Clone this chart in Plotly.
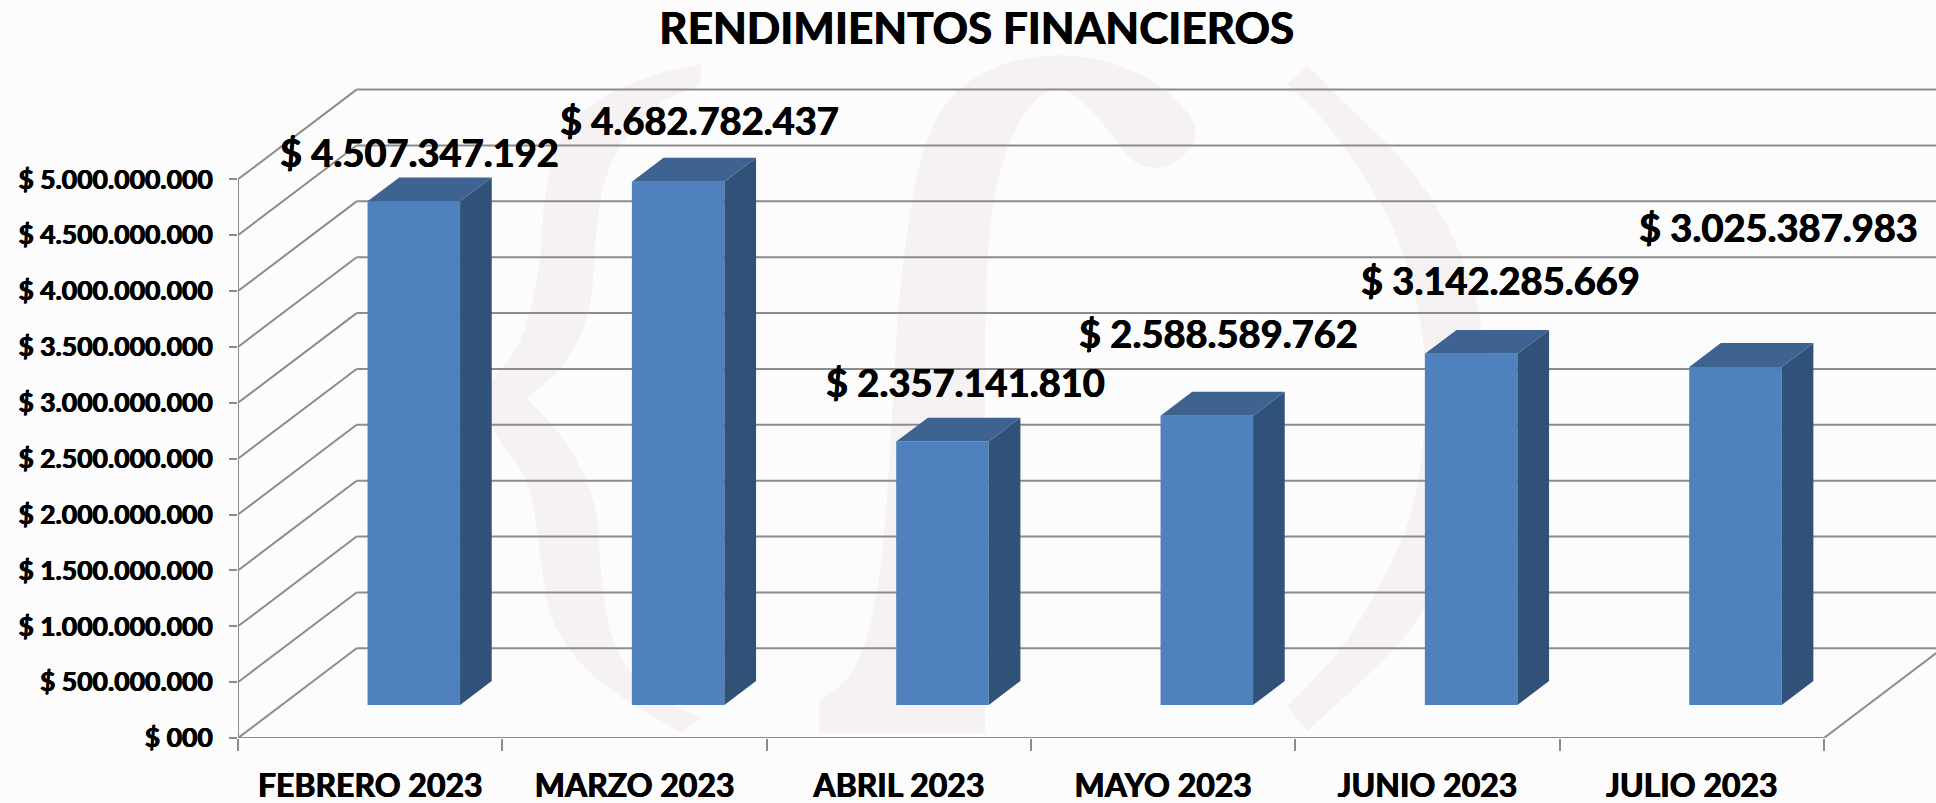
import plotly.graph_objects as go

TITLE = "RENDIMIENTOS FINANCIEROS"
categories = ["FEBRERO 2023", "MARZO 2023", "ABRIL 2023", "MAYO 2023", "JUNIO 2023", "JULIO 2023"]
values = [4507347192, 4682782437, 2357141810, 2588589762, 3142285669, 3025387983]
value_labels = ["$ 4.507.347.192", "$ 4.682.782.437", "$ 2.357.141.810",
                "$ 2.588.589.762", "$ 3.142.285.669", "$ 3.025.387.983"]
y_ticks = [0, 500000000, 1000000000, 1500000000, 2000000000, 2500000000,
           3000000000, 3500000000, 4000000000, 4500000000, 5000000000]
y_tick_labels = ["$ 000", "$ 500.000.000", "$ 1.000.000.000", "$ 1.500.000.000",
                 "$ 2.000.000.000", "$ 2.500.000.000", "$ 3.000.000.000",
                 "$ 3.500.000.000", "$ 4.000.000.000", "$ 4.500.000.000", "$ 5.000.000.000"]

# styling / layout
W, H = 1936, 803
LEFT, BOTTOM, TOP = 238, 65, 60
CAT_PX = 264.33
VAL_PX = 111.74 / 1e9
FONT = "Lato"
BLACK = "#000000"
GRID = "#8C8C8C"
FRONT, SIDE, CAP = "#4F81BD", "#315278", "#3E6390"
WM = "#F6F2F4"
BG = "#FCFCFC"
WALL_DX = 118.6 / CAT_PX
WALL_DY = 89.7 / VAL_PX
BAR_WIDTH = 0.35
BAR_FRONT, BAR_BACK = 0.368, 0.635
LABEL_SHIFT_X = [6, 21, 23, 12, 29, 43]
LABEL_SHIFT_Y = [49, 62, 60, 83, 74, 140]

x_lo = -0.5
x_hi = 5.5
x_max = x_lo + (W - LEFT) / CAT_PX
y_max = (H - BOTTOM - TOP) / VAL_PX
n = len(categories)
pos = list(range(n))


def line(x0, y0, x1, y1):
    return dict(type="line", xref="x", yref="y", x0=x0, y0=y0, x1=x1, y1=y1,
                layer="below", line=dict(color=GRID, width=2))


# pale watermark outlines, in page pixels
wm_brace = [(701, 64), (701, 64), (652, 74), (589, 103), (557, 139), (543, 202), (540, 273), (520, 349),
            (490, 380), (485, 410), (497, 439), (529, 478), (540, 551), (549, 624), (595, 682),
            (681, 733), (681, 733), (701, 718), (701, 718), (646, 692), (612, 648), (600, 575), (598, 502),
            (566, 439), (527, 398), (527, 398), (566, 366), (592, 312), (595, 235), (606, 166), (646, 108),
            (701, 84), (701, 84)]
wm_f = [(819, 701), (819, 701), (819, 733), (819, 733), (985, 733), (985, 733), (985, 526), (985, 235),
        (1008, 137), (1043, 89), (1071, 89), (1111, 132), (1134, 166), (1169, 169), (1198, 142),
        (1192, 113), (1140, 69), (1054, 50), (968, 74), (922, 137), (899, 283), (893, 405), (882, 575),
        (859, 672)]
wm_paren = [(1307, 65), (1307, 65), (1350, 109), (1400, 155), (1450, 224), (1483, 315), (1487, 407),
            (1467, 522), (1417, 628), (1350, 692), (1307, 731), (1307, 731), (1287, 706), (1287, 706),
            (1343, 650), (1393, 563), (1417, 499), (1427, 407), (1423, 325), (1400, 237), (1360, 169),
            (1323, 118), (1287, 84), (1287, 84)]


def smooth_path(points):
    # "paper" coordinates span the plot area, so map page pixels onto it
    pts = [((px - LEFT) / (W - LEFT), 1 - (py - TOP) / (H - TOP - BOTTOM)) for px, py in points]
    m = len(pts)
    mid = lambda a, b: ((a[0] + b[0]) / 2, (a[1] + b[1]) / 2)
    s = mid(pts[-1], pts[0])
    d = f"M {s[0]:.5f} {s[1]:.5f}"
    for i in range(m):
        c = pts[i]
        e = mid(pts[i], pts[(i + 1) % m])
        d += f" Q {c[0]:.5f} {c[1]:.5f} {e[0]:.5f} {e[1]:.5f}"
    return d + " Z"


shapes = [dict(type="path", xref="paper", yref="paper", path=smooth_path(p), layer="below",
               fillcolor=WM, line=dict(width=0)) for p in (wm_brace, wm_f, wm_paren)]

# 3D frame
for v in y_ticks:
    shapes.append(line(x_lo, v, x_lo + WALL_DX, v + WALL_DY))
    shapes.append(line(x_lo + WALL_DX, v + WALL_DY, x_max + 1, v + WALL_DY))
shapes.append(line(x_lo, 0, x_lo, y_ticks[-1]))
shapes.append(line(x_lo, 0, x_hi, 0))
shapes.append(line(x_hi, 0, x_hi + WALL_DX, WALL_DY))

fig = go.Figure()

# bars: front faces
shift_x = BAR_FRONT * WALL_DX
shift_y = BAR_FRONT * WALL_DY
depth_x = (BAR_BACK - BAR_FRONT) * WALL_DX
depth_y = (BAR_BACK - BAR_FRONT) * WALL_DY
fig.add_trace(go.Bar(x=[p + shift_x for p in pos], y=values, base=[shift_y] * n, width=BAR_WIDTH,
                     marker=dict(color=FRONT, line=dict(width=0)), showlegend=False,
                     customdata=categories, hovertemplate="%{customdata}: %{y}<extra></extra>"))

# bars: side and top faces
for p, v in zip(pos, values):
    xl = p + shift_x - BAR_WIDTH / 2
    xr = p + shift_x + BAR_WIDTH / 2
    top = shift_y + v
    fig.add_trace(go.Scatter(x=[xr, xr + depth_x, xr + depth_x, xr, xr],
                             y=[shift_y, shift_y + depth_y, top + depth_y, top, shift_y],
                             mode="lines", fill="toself", fillcolor=SIDE, line=dict(width=0),
                             hoverinfo="skip", showlegend=False))
    fig.add_trace(go.Scatter(x=[xl, xr, xr + depth_x, xl + depth_x, xl],
                             y=[top, top, top + depth_y, top + depth_y, top],
                             mode="lines", fill="toself", fillcolor=CAP, line=dict(width=0),
                             hoverinfo="skip", showlegend=False))

HEAVY = "0.6px 0 0 #000, -0.4px 0 0 #000"
annotations = [dict(x=p + shift_x, y=shift_y + v, xref="x", yref="y", text=t, showarrow=False,
                    xanchor="center", yanchor="middle", xshift=dx, yshift=dy,
                    font=dict(family=FONT, size=38, color=BLACK, weight=700, shadow=HEAVY))
               for p, v, t, dx, dy in zip(pos, values, value_labels, LABEL_SHIFT_X, LABEL_SHIFT_Y)]

fig.update_layout(
    width=W, height=H, margin=dict(l=LEFT, r=0, t=TOP, b=BOTTOM, pad=0),
    paper_bgcolor=BG, plot_bgcolor="rgba(0,0,0,0)", showlegend=False,
    title=dict(text=TITLE, x=976.7 / W, xref="container", xanchor="center",
               y=1 - 29 / H, yref="container", yanchor="middle",
               font=dict(family=FONT, size=44, color=BLACK, weight=700, shadow=HEAVY)),
    xaxis=dict(range=[x_lo, x_max], tickvals=pos, ticktext=categories, ticks="", showgrid=False,
               zeroline=False, showline=False, ticklabelstandoff=26,
               tickfont=dict(family=FONT, size=32, color=BLACK, weight=700, shadow=HEAVY),
               minor=dict(tickvals=[x_lo + i for i in range(n + 1)], ticks="outside", ticklen=12,
                          tickwidth=2, tickcolor=GRID, showgrid=False)),
    yaxis=dict(range=[0, y_max], tickvals=y_ticks, ticktext=y_tick_labels, ticks="outside",
               ticklen=8, tickwidth=2, tickcolor=GRID, showgrid=False, zeroline=False,
               showline=False, ticklabelstandoff=11,
               tickfont=dict(family=FONT, size=26.5, color=BLACK, weight=700, shadow=HEAVY)),
    shapes=shapes, annotations=annotations,
)

fig.write_html("out.html", config={"displayModeBar": False},
               post_script="document.body.style.margin='0';")
